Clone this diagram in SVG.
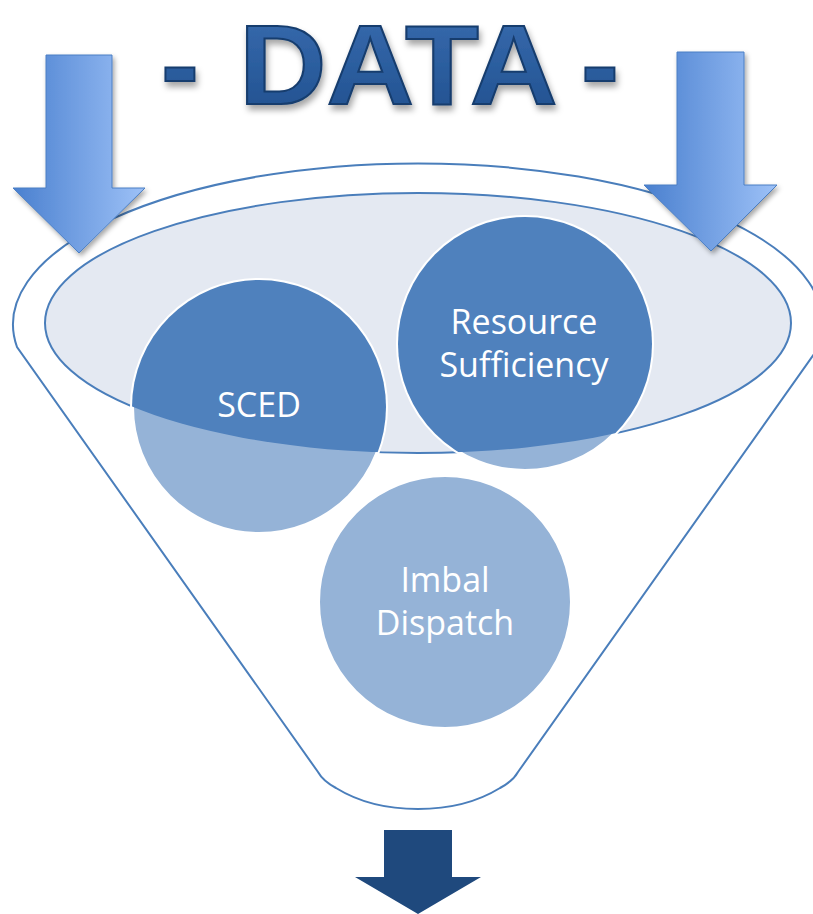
<svg xmlns="http://www.w3.org/2000/svg" width="813" height="914" viewBox="0 0 813 914">
  <style>
    .outline { fill: none; stroke: #4A7EBB; stroke-width: 2; }
    .circ-light { fill: #95B3D7; stroke: #FFFFFF; stroke-width: 4; }
    .circ-dark { fill: #4F81BD; }
    .lbl { font-family: "Open Sans", "Liberation Sans", sans-serif; font-size: 34px; fill: #FFFFFF; text-anchor: middle; }
    .title { font-family: "Liberation Sans", Arial, sans-serif; font-weight: bold; font-size: 114px; fill: url(#titleGrad); stroke: #173D6E; stroke-width: 2; }
    .in-arrow { fill: url(#arrowGrad); stroke: #4A7EC4; stroke-width: 1; filter: url(#shadow); }
  </style>
  <defs>
    <linearGradient id="arrowGrad" x1="0" y1="0" x2="1" y2="0">
      <stop offset="0" stop-color="#4A80CF"/>
      <stop offset="1" stop-color="#9DC1F7"/>
    </linearGradient>
    <linearGradient id="titleGrad" x1="0" y1="0" x2="0" y2="1">
      <stop offset="0" stop-color="#3A6DB0"/>
      <stop offset="0.5" stop-color="#2C5E9F"/>
      <stop offset="1" stop-color="#1F4E8C"/>
    </linearGradient>
    <filter id="shadow" x="-30%" y="-20%" width="160%" height="150%">
      <feDropShadow dx="2" dy="3" stdDeviation="2.5" flood-color="#000000" flood-opacity="0.35"/>
    </filter>
    <filter id="tshadow" x="-10%" y="-20%" width="120%" height="150%">
      <feDropShadow dx="2" dy="5" stdDeviation="3" flood-color="#000000" flood-opacity="0.35"/>
    </filter>
    <clipPath id="innerClip">
      <ellipse cx="418" cy="323" rx="373" ry="130"/>
    </clipPath>
  </defs>

  <g id="title" filter="url(#tshadow)">
    <text class="title" y="104"><tspan x="161">-</tspan> <tspan x="239" textLength="314" lengthAdjust="spacingAndGlyphs">DATA</tspan> <tspan x="581">-</tspan></text>
  </g>

  <g id="funnel">
    <path class="outline" d="M 17 347 A 405 161 0 1 1 819 347 L 518 772 Q 513 781 500 788 Q 466 809 418 809 Q 370 809 336 788 Q 323 781 318 772 Z"/>
    <ellipse cx="418" cy="323" rx="373" ry="130" fill="#E4E9F2" stroke="#4A7EBB" stroke-width="2"/>
  </g>

  <g id="node-sced">
    <circle class="circ-light" cx="259" cy="407" r="127"/>
    <circle class="circ-dark" cx="259" cy="407" r="127" clip-path="url(#innerClip)"/>
    <text class="lbl" x="259" y="417">SCED</text>
  </g>

  <g id="node-resource">
    <circle class="circ-light" cx="525" cy="344" r="127"/>
    <circle class="circ-dark" cx="525" cy="344" r="127" clip-path="url(#innerClip)"/>
    <text class="lbl" x="524" y="334">Resource</text>
    <text class="lbl" x="524" y="377">Sufficiency</text>
  </g>

  <g id="node-imbal">
    <circle class="circ-light" cx="445" cy="602" r="127"/>
    <circle class="circ-dark" cx="445" cy="602" r="127" clip-path="url(#innerClip)"/>
    <text class="lbl" x="445" y="592">Imbal</text>
    <text class="lbl" x="445" y="635">Dispatch</text>
  </g>

  <g id="connectors">
    <polygon id="arrow-left" class="in-arrow" points="46,55 112,55 112,188 145,188 79,253 13,188 46,188"/>
    <polygon id="arrow-right" class="in-arrow" points="677,52 744,52 744,185 777,185 711,251 644,185 677,185"/>
    <polygon id="arrow-out" fill="#1F497D" points="384,830 452,830 452,877 481,877 418,914 355,877 384,877"/>
  </g>
</svg>
